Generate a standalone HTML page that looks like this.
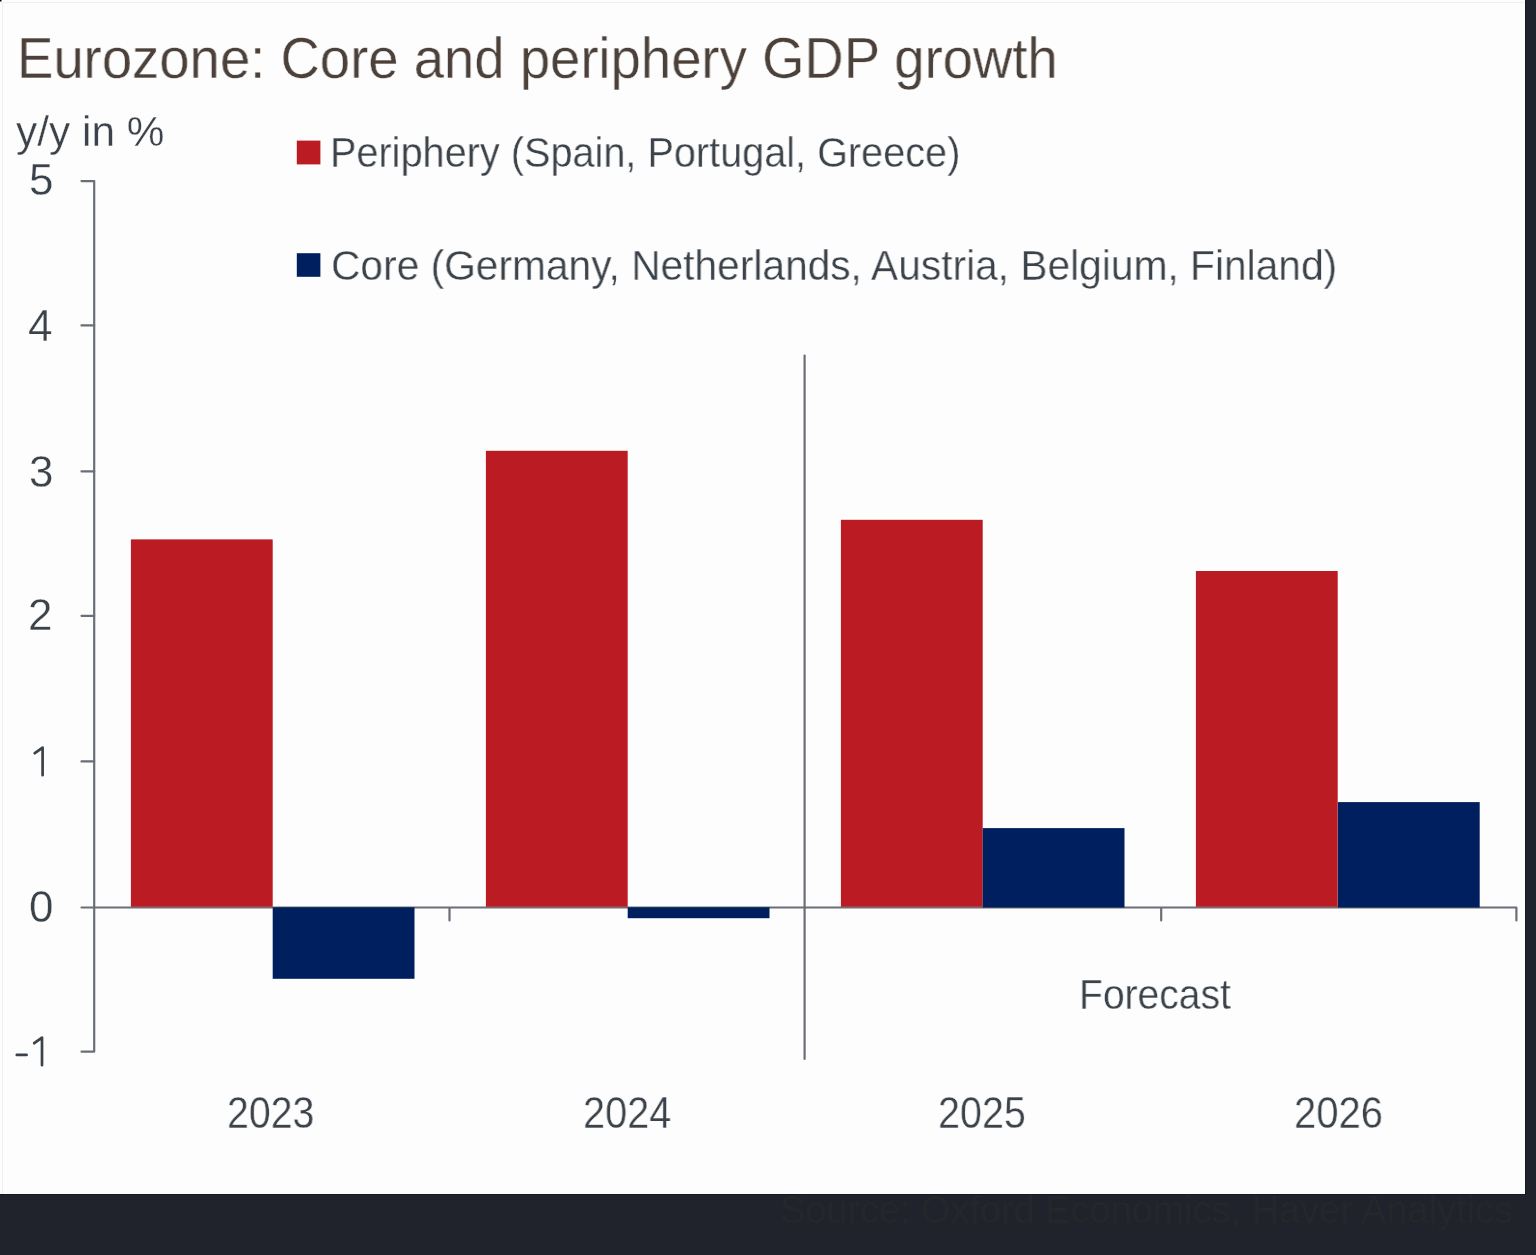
<!DOCTYPE html>
<html><head><meta charset="utf-8">
<style>
html,body{margin:0;padding:0;}
body{width:1536px;height:1255px;background:#20232b;position:relative;overflow:hidden;font-family:"Liberation Sans",sans-serif;}
#card{position:absolute;left:0;top:0;width:1525px;height:1194px;background:#fdfdfd;}
.t{position:absolute;white-space:nowrap;line-height:1;color:#3b424a;transform-origin:0 0;-webkit-text-stroke:0.35px #fdfdfd;will-change:transform;}
#src{-webkit-text-stroke:0.5px #25272c;}
svg{position:absolute;left:0;top:0;}
</style></head>
<body>
<div id="card"></div>
<div style="position:absolute;left:0;top:1194px;width:1526px;height:1px;background:#15181e"></div>
<div style="position:absolute;left:1525px;top:0;width:1px;height:1195px;background:#15181e"></div>
<svg width="1536" height="1255" viewBox="0 0 1536 1255">
  <line x1="2.5" y1="2" x2="2.5" y2="1194" stroke="#f0f0f0" stroke-width="1"/>
  <line x1="2" y1="2.5" x2="1524" y2="2.5" stroke="#f0f0f0" stroke-width="1"/>
  <rect x="0" y="0" width="1.5" height="1.5" fill="#000"/>
  <g stroke="#6a6f77" stroke-width="2.2" fill="none" stroke-linejoin="round" stroke-linecap="round">
    <path d="M81.5 181.1 H94.2 V1051.6 H81.5"/>
    <path d="M81.5 325.4 H94.2 M81.5 471.4 H94.2 M81.5 615.8 H94.2 M81.5 761.4 H94.2 M81.5 907.5 H94.2"/>
    <path d="M94.2 907.5 H1516.4 V920.5 M449.5 907.5 V920.5 M1161.2 907.5 V920.5"/>
    <path d="M804.6 355.5 V1059"/>
  </g>
  <g fill="#bb1b22">
    <rect x="130.9" y="539.4" width="141.8" height="367.4"/>
    <rect x="485.9" y="450.8" width="141.8" height="456"/>
    <rect x="840.9" y="519.8" width="141.8" height="387"/>
    <rect x="1195.9" y="571" width="141.8" height="335.8"/>
    <rect x="296.8" y="140.6" width="23.6" height="23.8"/>
  </g>
  <g fill="#001f5f">
    <rect x="272.7" y="907.3" width="141.8" height="71.5"/>
    <rect x="627.7" y="907.3" width="141.8" height="10.9"/>
    <rect x="982.7" y="828.1" width="141.8" height="79.4"/>
    <rect x="1337.9" y="802.1" width="141.8" height="105.4"/>
    <rect x="296.8" y="253.2" width="23.6" height="23.6"/>
  </g>
  <g stroke="#3b424a" stroke-width="2.7" fill="none" stroke-linecap="round" stroke-linejoin="round">
    <path d="M34.8 753.2 L42.6 747.6 V775.2"/>
    <path d="M34.2 1043.2 L42 1037.6 V1065.2 M16.8 1054.9 H26.6"/>
  </g>
</svg>
<div class="t" id="title" style="left:16.90px;top:30.65px;font-size:56.5px;color:#4b413a;transform:scaleX(0.9642);">Eurozone: Core and periphery GDP growth</div>
<div class="t" id="yy" style="left:15.70px;top:111.34px;font-size:42px;transform:scaleX(1.0099);">y/y in %</div>
<div class="t" id="lg1" style="left:329.90px;top:132.14px;font-size:42px;transform:scaleX(0.9441);">Periphery (Spain, Portugal, Greece)</div>
<div class="t" id="lg2" style="left:330.90px;top:245.14px;font-size:42px;transform:scaleX(0.9693);">Core (Germany, Netherlands, Austria, Belgium, Finland)</div>
<div class="t" id="y5" style="left:28.95px;top:158.03px;font-size:44px;">5</div>
<div class="t" id="y4" style="left:28.25px;top:303.73px;font-size:44px;">4</div>
<div class="t" id="y3" style="left:28.75px;top:449.53px;font-size:44px;">3</div>
<div class="t" id="y2" style="left:28.10px;top:592.83px;font-size:44px;">2</div>
<div class="t" id="y0" style="left:28.65px;top:884.53px;font-size:44px;">0</div>
<div class="t" id="x23" style="left:227.30px;top:1091.23px;font-size:44px;transform:scaleX(0.8913);">2023</div>
<div class="t" id="x24" style="left:582.90px;top:1091.33px;font-size:44px;transform:scaleX(0.9016);">2024</div>
<div class="t" id="x25" style="left:937.70px;top:1091.33px;font-size:44px;transform:scaleX(0.8969);">2025</div>
<div class="t" id="x26" style="left:1293.50px;top:1091.33px;font-size:44px;transform:scaleX(0.9084);">2026</div>
<div class="t" id="fc" style="left:1079.10px;top:973.53px;font-size:42px;transform:scaleX(0.9296);">Forecast</div>
<div class="t" id="src" style="left:780.35px;top:1192.11px;font-size:37.9px;color:#25272c;">Source: Oxford Economics, Haver Analytics</div>
</body></html>
